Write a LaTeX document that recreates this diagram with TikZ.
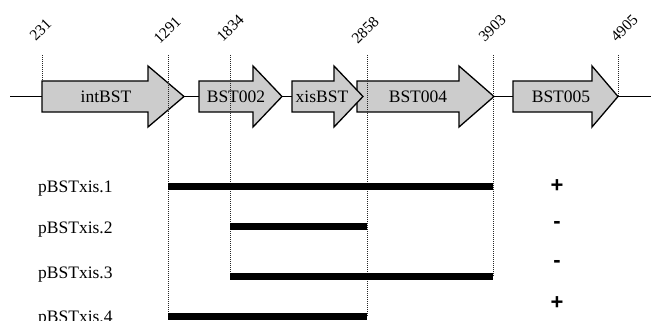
\documentclass[tikz,border=0pt]{standalone}
\usepackage{fontspec}
\setmainfont{Liberation Serif}
\newfontfamily\signfont{Liberation Sans}
\definecolor{genegray}{RGB}{204,204,204}
% gene arrow: start x, head start x, tip x
\newcommand{\genearrow}[3]{%
  \draw[gene] (#1,-81) -- (#2,-81) -- (#2,-66) -- (#3,-96.5) -- (#2,-127)
    -- (#2,-112) -- (#1,-112) -- cycle;}
\begin{document}
\begin{tikzpicture}[x=1pt,y=1pt,
  gene/.style={draw=black, line width=1.3pt, fill=genegray, line join=miter},
  genelabel/.style={font=\fontsize{17.5}{20}\selectfont, inner sep=0pt},
  poslabel/.style={font=\fontsize{15.5}{18}\selectfont, rotate=45,
    anchor=south west, inner sep=0pt},
  guide/.style={draw=black!85, line width=0.7pt, dash pattern=on 1pt off 1pt},
  backbone/.style={draw=black, line width=1.3pt},
  insert/.style={draw=black, line width=7pt},
  clonelabel/.style={font=\fontsize{17.5}{20}\selectfont, anchor=base west,
    inner sep=0pt},
  sign/.style={font=\signfont\bfseries\fontsize{22}{24}\selectfont, inner sep=0pt}
]
\useasboundingbox (0,0) rectangle (651,-321);

% chromosome backbone
\coordinate (bbL) at (10,-96.5);
\coordinate (bbR) at (651,-96.5);
\draw[backbone] (bbL) -- (bbR);

% genes
\genearrow{42}{148}{184}
\genearrow{199}{253}{282}
\genearrow{357}{459}{494}
\genearrow{513}{592}{618}
\genearrow{292}{334}{363}
\node[genelabel] (intBST) at (106,-96.5) {intBST};
\node[genelabel] (bst002) at (236,-96.5) {BST002};
\node[genelabel] (xisBST) at (322,-96.5) {xisBST};
\node[genelabel] (bst004) at (418,-96.5) {BST004};
\node[genelabel] (bst005) at (561,-96.5) {BST005};

% coordinate labels
\node[poslabel] (n231)  at (36,-42)  {231};
\node[poslabel] (n1291) at (160,-45) {1291};
\node[poslabel] (n1834) at (223,-43) {1834};
\node[poslabel] (n2858) at (358,-45) {2858};
\node[poslabel] (n3903) at (485,-43) {3903};
\node[poslabel] (n4905) at (617,-43) {4905};

% tops of the guide lines
\coordinate (g231)  at (42,-55);
\coordinate (g1291) at (168,-55);
\coordinate (g1834) at (230,-55);
\coordinate (g2858) at (367,-55);
\coordinate (g3903) at (493,-55);
\coordinate (g4905) at (618,-55);

% cloned inserts
\coordinate (i1a) at (168,-186); \coordinate (i1b) at (493,-186);
\coordinate (i2a) at (230,-226); \coordinate (i2b) at (367,-226);
\coordinate (i3a) at (230,-276); \coordinate (i3b) at (493,-276);
\coordinate (i4a) at (168,-316); \coordinate (i4b) at (367,-316);

% guide lines
\draw[guide] (g231) -- (42,-81);
\draw[guide] (g4905) -- (618,-96.5);
\draw[guide] (g1291) -- (i4a);
\draw[guide] (g1834) -- (i3a);
\draw[guide] (g2858) -- (i4b);
\draw[guide] (g3903) -- (i3b);

\draw[insert] (i1a) -- (i1b);
\draw[insert] (i2a) -- (i2b);
\draw[insert] (i3a) -- (i3b);
\draw[insert] (i4a) -- (i4b);

% clone names
\node[clonelabel] (c1) at (38,-192) {pBSTxis.1};
\node[clonelabel] (c2) at (38,-233) {pBSTxis.2};
\node[clonelabel] (c3) at (38,-278) {pBSTxis.3};
\node[clonelabel] (c4) at (38,-322) {pBSTxis.4};

% activity
\node[sign] (s1) at (557,-186) {+};
\node[sign] (s2) at (557,-225) {-};
\node[sign] (s3) at (557,-264) {-};
\node[sign] (s4) at (557,-303) {+};
\end{tikzpicture}
\end{document}
